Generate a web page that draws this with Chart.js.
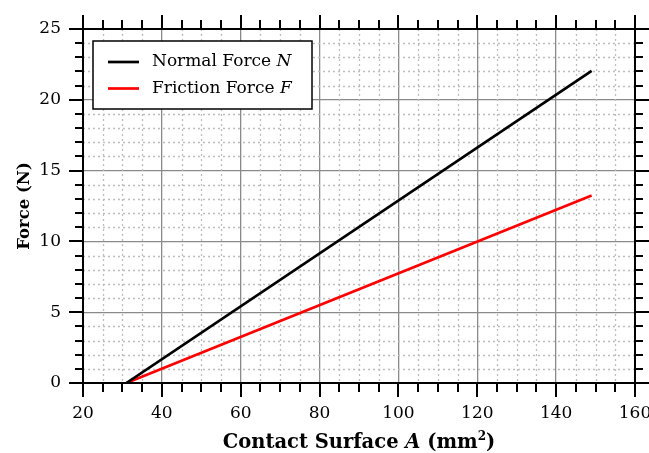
<!DOCTYPE html>
<html>
<head>
<meta charset="utf-8">
<title>Force vs Contact Surface</title>
<script src="https://cdn.jsdelivr.net/npm/chart.js@4.4.1/dist/chart.umd.min.js"></script>
<style>
  html, body { margin: 0; padding: 0; background: #fff; }
</style>
</head>
<body>
<canvas id="forceChart" width="649" height="453"></canvas>
<script>
// --- Data ---
const contactArea = [31, 149];          // mm^2
const normalForce = [0, 22.05];         // N
const frictionForce = [0, 13.25];       // N
const seriesNames = ['Normal Force', 'Friction Force'];
const seriesSymbols = ['N', 'F'];
const seriesColors = ['#000000', '#ff0000'];

const xMin = 20, xMax = 160, xMajor = 20, xMinor = 5;
const yMin = 0, yMax = 25, yMajor = 5, yMinor = 1;

const FONT = '"DejaVu Serif", serif';

const canvas = document.getElementById('forceChart');

function toPoints(xs, ys) {
  return xs.map((x, i) => ({ x: x, y: ys[i] }));
}

function isMajor(v, step) {
  return Math.abs(v / step - Math.round(v / step)) < 1e-6;
}

function strokeLine(ctx, x1, y1, x2, y2) {
  ctx.beginPath();
  ctx.moveTo(x1, y1);
  ctx.lineTo(x2, y2);
  ctx.stroke();
}

// dotted minor grid, drawn under the lines
const minorGrid = {
  id: 'minorGrid',
  beforeDatasetsDraw(chart) {
    const { ctx, chartArea: a, scales: { x, y } } = chart;
    ctx.save();
    ctx.strokeStyle = '#bdbdbd';
    ctx.lineWidth = 1.3;
    ctx.setLineDash([2, 3]);
    x.ticks.forEach(t => {
      if (isMajor(t.value, xMajor)) return;
      const px = Math.round(x.getPixelForValue(t.value)) + 0.5;
      strokeLine(ctx, px, a.top, px, a.bottom);
    });
    y.ticks.forEach(t => {
      if (isMajor(t.value, yMajor)) return;
      const py = Math.round(y.getPixelForValue(t.value)) + 0.5;
      strokeLine(ctx, a.left, py, a.right, py);
    });
    ctx.restore();
  }
};

// box frame with outward ticks on all four sides
const frameTicks = {
  id: 'frameTicks',
  afterDraw(chart) {
    const { ctx, chartArea: a, scales: { x, y } } = chart;
    ctx.save();
    ctx.strokeStyle = '#000';
    ctx.lineWidth = 2;
    x.ticks.forEach(t => {
      const px = Math.round(x.getPixelForValue(t.value));
      const len = isMajor(t.value, xMajor) ? 14 : 9;
      strokeLine(ctx, px, a.bottom, px, a.bottom + len);
      strokeLine(ctx, px, a.top, px, a.top - len);
    });
    y.ticks.forEach(t => {
      const py = Math.round(y.getPixelForValue(t.value));
      const len = isMajor(t.value, yMajor) ? 14 : 8;
      strokeLine(ctx, a.left, py, a.left - len, py);
      strokeLine(ctx, a.right, py, a.right + len, py);
    });
    ctx.strokeRect(a.left, a.top, a.right - a.left, a.bottom - a.top);

    // axis titles (mixed italic / superscript)
    ctx.fillStyle = '#000';
    ctx.textBaseline = 'alphabetic';
    const parts = [
      { t: 'Contact Surface ', f: 'bold 19.5px ' + FONT, dy: 0 },
      { t: 'A', f: 'italic bold 19.5px ' + FONT, dy: 0 },
      { t: ' (mm', f: 'bold 19.5px ' + FONT, dy: 0 },
      { t: '2', f: 'bold 12px ' + FONT, dy: -8 },
      { t: ')', f: 'bold 19.5px ' + FONT, dy: 0 }
    ];
    let total = 0;
    parts.forEach(p => { ctx.font = p.f; p.w = ctx.measureText(p.t).width; total += p.w; });
    let cx = (a.left + a.right) / 2 - total / 2;
    parts.forEach(p => {
      ctx.font = p.f;
      ctx.textAlign = 'left';
      ctx.fillText(p.t, cx, 448 + p.dy);
      cx += p.w;
    });

    ctx.translate(25, (a.top + a.bottom) / 2);
    ctx.rotate(-Math.PI / 2);
    ctx.font = 'bold 16.5px ' + FONT;
    ctx.textAlign = 'center';
    ctx.textBaseline = 'middle';
    ctx.fillText('Force (N)', 0, 0);
    ctx.restore();
  }
};

// legend box inside the plot, names with italic symbols
const boxLegend = {
  id: 'boxLegend',
  afterDatasetsDraw(chart) {
    const { ctx, chartArea: a } = chart;
    const bx = a.left + 10, by = a.top + 12, bw = 219, bh = 68;
    ctx.save();
    ctx.fillStyle = '#fff';
    ctx.fillRect(bx, by, bw, bh);
    ctx.strokeStyle = '#000';
    ctx.lineWidth = 1.5;
    ctx.strokeRect(bx, by, bw, bh);
    chart.data.datasets.forEach((ds, i) => {
      const ly = by + 21 + i * 26.5;
      ctx.strokeStyle = ds.borderColor;
      ctx.lineWidth = 2.7;
      strokeLine(ctx, bx + 15, ly, bx + 46, ly);
      ctx.fillStyle = '#000';
      ctx.textBaseline = 'middle';
      ctx.textAlign = 'left';
      ctx.font = '17px ' + FONT;
      const name = seriesNames[i] + ' ';
      ctx.fillText(name, bx + 59, ly);
      const w = ctx.measureText(name).width;
      ctx.font = 'italic 17px ' + FONT;
      ctx.fillText(seriesSymbols[i], bx + 59 + w, ly);
    });
    ctx.restore();
  }
};

const chart = new Chart(canvas, {
  type: 'line',
  data: {
    datasets: [
      {
        label: seriesNames[0] + ' ' + seriesSymbols[0],
        data: toPoints(contactArea, normalForce),
        borderColor: seriesColors[0],
        borderWidth: 2.7,
        pointRadius: 0,
        tension: 0
      },
      {
        label: seriesNames[1] + ' ' + seriesSymbols[1],
        data: toPoints(contactArea, frictionForce),
        borderColor: seriesColors[1],
        borderWidth: 2.7,
        pointRadius: 0,
        tension: 0
      }
    ]
  },
  options: {
    responsive: false,
    animation: false,
    layout: { padding: { top: 29, right: 14, bottom: 0, left: 0 } },
    plugins: {
      legend: { display: false },
      tooltip: { enabled: false }
    },
    scales: {
      x: {
        type: 'linear',
        min: xMin,
        max: xMax,
        border: { display: false },
        grid: {
          drawTicks: false,
          color: c => isMajor(c.tick.value, xMajor) ? '#8a8a8a' : 'rgba(0,0,0,0)',
          lineWidth: 1.3
        },
        ticks: {
          stepSize: xMinor,
          autoSkip: false,
          maxRotation: 0,
          padding: 20,
          color: '#000',
          font: { family: FONT, size: 17 },
          callback: v => isMajor(v, xMajor) ? String(v) : ''
        },
        afterFit(scale) {
          scale.height = 70;
          scale.paddingLeft = 0;
          scale.paddingRight = 0;
        }
      },
      y: {
        min: yMin,
        max: yMax,
        border: { display: false },
        grid: {
          drawTicks: false,
          color: c => isMajor(c.tick.value, yMajor) ? '#8a8a8a' : 'rgba(0,0,0,0)',
          lineWidth: 1.3
        },
        ticks: {
          stepSize: yMinor,
          autoSkip: false,
          padding: 22,
          color: '#000',
          font: { family: FONT, size: 17 },
          callback: v => isMajor(v, yMajor) ? String(v) : ''
        },
        afterFit(scale) {
          scale.width = 83;
          scale.paddingTop = 0;
          scale.paddingBottom = 0;
        }
      }
    }
  },
  plugins: [minorGrid, boxLegend, frameTicks]
});
</script>
</body>
</html>
